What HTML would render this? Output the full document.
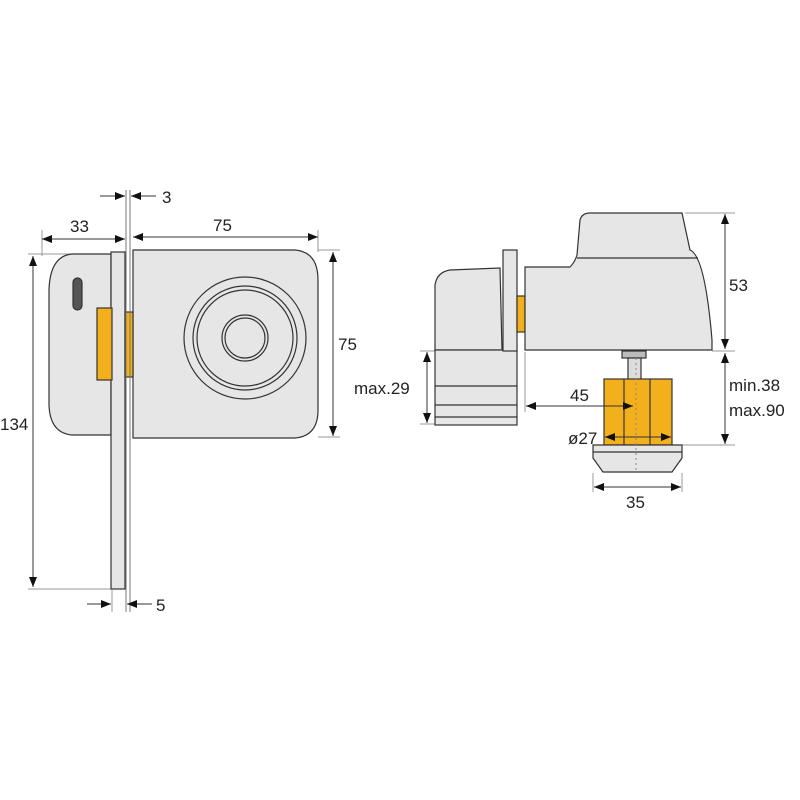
<!DOCTYPE html>
<html><head><meta charset="utf-8"><style>
html,body{margin:0;padding:0;background:#fff;width:800px;height:800px;overflow:hidden}
svg{display:block}
text{font-family:"Liberation Sans",sans-serif;font-size:17px;fill:#222}
</style></head><body>
<svg width="800" height="800" viewBox="0 0 800 800" xmlns="http://www.w3.org/2000/svg">
<defs>
<marker id="a" viewBox="0 0 10 10" refX="10" refY="5" markerWidth="10" markerHeight="10" markerUnits="userSpaceOnUse" orient="auto-start-reverse"><path d="M0,1 L10,5 L0,9 Z" fill="#111"/></marker>
</defs>
<g stroke="#999" stroke-width="1" fill="none">
<line x1="42" y1="230" x2="42" y2="256"/>
<line x1="28" y1="254" x2="112" y2="254"/>
<line x1="28" y1="589" x2="112" y2="589"/>
<line x1="318" y1="230" x2="318" y2="252"/>
<line x1="318" y1="250" x2="340" y2="250"/>
<line x1="318" y1="437" x2="340" y2="437"/>
<line x1="112" y1="590" x2="112" y2="612"/>
<line x1="126" y1="590" x2="126" y2="612"/>
<line x1="685" y1="213" x2="735" y2="213"/>
<line x1="712" y1="351" x2="735" y2="351"/>
<line x1="672" y1="445" x2="735" y2="445"/>
<line x1="420" y1="351" x2="436" y2="351"/>
<line x1="420" y1="424" x2="436" y2="424"/>
<line x1="525" y1="352" x2="525" y2="412"/>
<line x1="593" y1="473" x2="593" y2="492"/>
<line x1="682" y1="473" x2="682" y2="492"/>
</g>
<g stroke="#333" stroke-width="1.2">
<path d="M111,254 L72,254 Q50,256 49,290 L49,405 Q50,433 72,435 L111,435 Z" fill="#e6e6e6"/>
<rect x="111" y="252" width="14" height="337" fill="#e6e6e6"/>
<path d="M133,250 L295,250 Q318,252 318,280 L318,410 Q318,436 295,438 L133,438 Z" fill="#e6e6e6"/>
<circle cx="245" cy="338" r="61" fill="#e6e6e6"/>
<circle cx="245" cy="338" r="52" fill="none"/>
<circle cx="245" cy="338" r="48" fill="none"/>
<circle cx="245" cy="338" r="23" fill="none"/>
<circle cx="245" cy="338" r="20" fill="none"/>
<rect x="97" y="308" width="15" height="72" fill="#f2b11c"/>
<rect x="125" y="312" width="8" height="65" fill="#f2b11c"/>
<rect x="73" y="278" width="9" height="32" rx="4.5" fill="#555"/>
</g>
<line x1="126" y1="190" x2="126" y2="612" stroke="#777" stroke-width="1"/>
<line x1="130" y1="190" x2="130" y2="612" stroke="#777" stroke-width="1"/>
<g stroke="#333" stroke-width="1" marker-end="url(#a)" marker-start="url(#a)">
<line x1="42" y1="239" x2="125" y2="239"/>
<line x1="133" y1="237" x2="318" y2="237"/>
<line x1="33" y1="256" x2="33" y2="587"/>
<line x1="333" y1="252" x2="333" y2="436"/>
</g>
<g stroke="#333" stroke-width="1" marker-end="url(#a)">
<line x1="100" y1="196" x2="125" y2="196"/>
<line x1="156" y1="196" x2="131" y2="196"/>
<line x1="87" y1="604" x2="111" y2="604"/>
<line x1="152" y1="604" x2="127" y2="604"/>
</g>
<text x="70" y="232">33</text>
<text x="213" y="231">75</text>
<text x="162" y="203">3</text>
<text x="156" y="611">5</text>
<text x="0" y="430">134</text>
<text x="338" y="350">75</text>
<g stroke="#333" stroke-width="1.2">
<path d="M435,350 L435,285 Q437,272 450,270 L500,268 L502,350 Z" fill="#e6e6e6"/>
<rect x="435" y="350" width="82" height="75" fill="#e6e6e6"/>
<line x1="435" y1="386" x2="517" y2="386"/>
<line x1="435" y1="405" x2="517" y2="405"/>
<line x1="435" y1="417" x2="517" y2="417"/>
<rect x="503" y="250" width="14" height="101" fill="#e6e6e6"/>
<rect x="517" y="296" width="8" height="36" fill="#f2b11c"/>
<path d="M525,350 L525,267 L570,267 Q575,262 577,255 L580,220 Q582,213 590,213 L682,213 L690,250 Q705,256 712,340 L712,350 Z" fill="#e6e6e6"/>
<line x1="577" y1="258" x2="698" y2="258"/>
<rect x="622" y="351" width="24" height="7" fill="#bbb"/>
<rect x="628" y="358" width="13" height="22" fill="#ddd"/>
<rect x="604" y="379" width="68" height="66" fill="#f2b11c"/>
<line x1="624" y1="379" x2="624" y2="445"/>
<line x1="650" y1="379" x2="650" y2="445"/>
<path d="M593,445 L682,445 L682,458 L672,472 L603,472 L593,458 Z" fill="#e6e6e6"/>
<line x1="593" y1="452" x2="682" y2="452"/>
</g>
<line x1="636" y1="358" x2="636" y2="472" stroke="#888" stroke-dasharray="2,3"/>
<g stroke="#333" stroke-width="1" marker-end="url(#a)" marker-start="url(#a)">
<line x1="725" y1="214" x2="725" y2="349"/>
<line x1="725" y1="353" x2="725" y2="444"/>
<line x1="427" y1="352" x2="427" y2="423"/>
<line x1="605" y1="437" x2="671" y2="437"/>
<line x1="594" y1="487" x2="681" y2="487"/>
</g>
<line x1="526" y1="406" x2="633" y2="406" stroke="#333" stroke-width="1" marker-start="url(#a)" marker-end="url(#a)"/>
<text x="729" y="291">53</text>
<text x="729" y="391">min.38</text>
<text x="729" y="416">max.90</text>
<text x="354" y="394">max.29</text>
<text x="570" y="401">45</text>
<text x="568" y="444">ø27</text>
<text x="626" y="508">35</text>
</svg>
</body></html>
